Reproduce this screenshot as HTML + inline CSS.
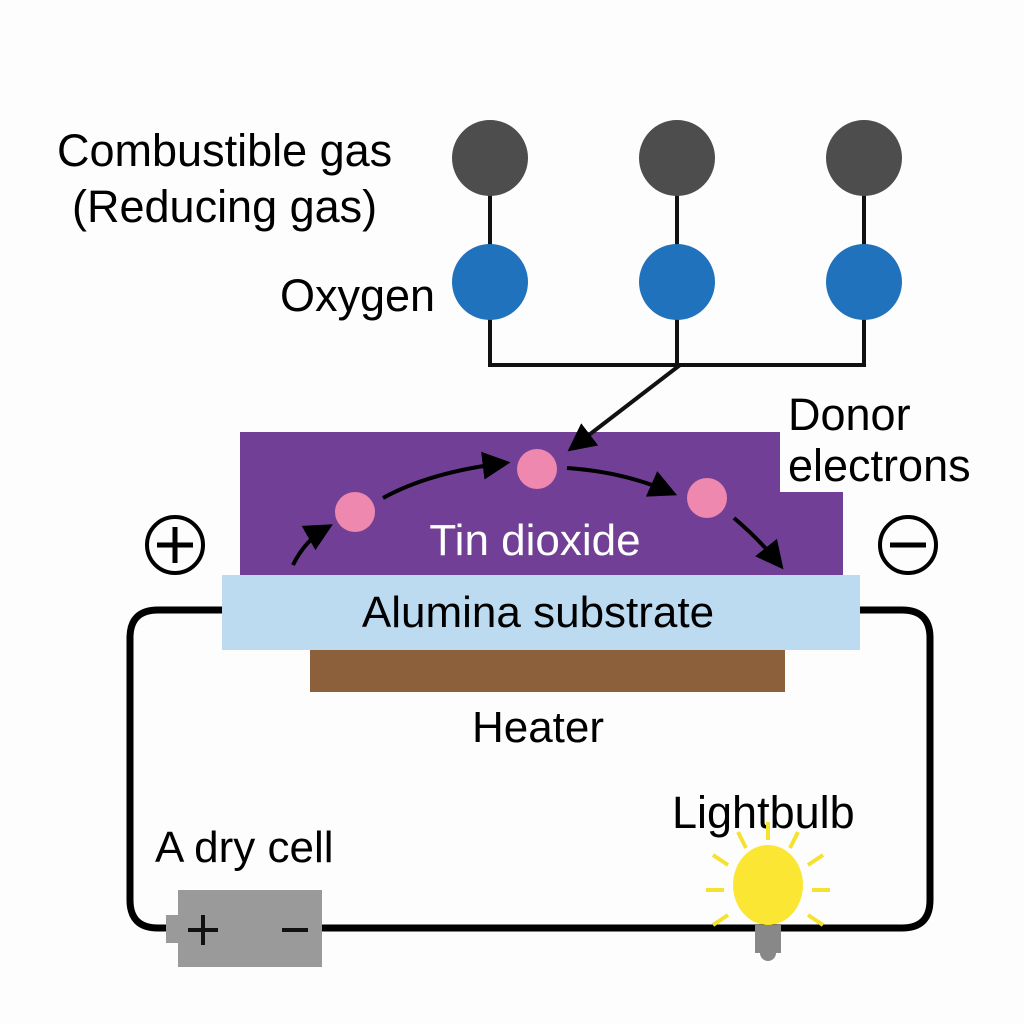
<!DOCTYPE html>
<html><head><style>body{margin:0;background:#fdfdfd}svg{display:block}text{font-family:"Liberation Sans",sans-serif}</style></head><body>
<svg width="1024" height="1024" viewBox="0 0 1024 1024">
<defs><marker id="a" viewBox="0 0 10 10" refX="8" refY="5" markerWidth="7" markerHeight="7" orient="auto"><path d="M0,0L10,5L0,10z" fill="#000"/></marker></defs>
<rect width="1024" height="1024" fill="#fdfdfd"/>
<text x="57" y="166" font-size="45">Combustible gas</text>
<text x="72" y="222" font-size="45">(Reducing gas)</text>
<text x="280" y="311" font-size="45">Oxygen</text>
<g stroke="#111" stroke-width="4" fill="none">
<path d="M490,158V365H864V158M677,158V365"/>
</g>
<g fill="#4d4d4d"><circle cx="490" cy="158" r="38"/><circle cx="677" cy="158" r="38"/><circle cx="864" cy="158" r="38"/></g>
<g fill="#1f72bb"><circle cx="490" cy="282" r="38"/><circle cx="677" cy="282" r="38"/><circle cx="864" cy="282" r="38"/></g>
<text x="788" y="430" font-size="45">Donor</text>
<text x="788" y="481" font-size="45">electrons</text>
<path d="M240,432H780V492H843V575H240Z" fill="#714096"/>
<path d="M680,365L572,448" stroke="#111" stroke-width="4" marker-end="url(#a)"/>
<path d="M222,610H158Q130,610 130,638V900Q130,928 158,928H902Q930,928 930,900V638Q930,610 902,610H860" stroke="#000" stroke-width="7" fill="none"/>
<rect x="222" y="575" width="638" height="75" fill="#bcdaf0"/>
<rect x="310" y="650" width="475" height="42" fill="#8c603a"/>
<text x="535" y="555" font-size="44" fill="#fff" text-anchor="middle">Tin dioxide</text>
<text x="538" y="627" font-size="44" text-anchor="middle">Alumina substrate</text>
<text x="538" y="742" font-size="44" text-anchor="middle">Heater</text>
<g fill="#ef88ae"><circle cx="355" cy="512" r="20"/><circle cx="537" cy="469" r="20"/><circle cx="707" cy="498" r="20"/></g>
<g stroke="#000" stroke-width="4" fill="none" marker-end="url(#a)">
<path d="M293,565Q305,540 328,527"/>
<path d="M383,498Q430,472 505,463"/>
<path d="M567,468Q625,472 672,493"/>
<path d="M734,518Q760,540 780,565"/>
</g>
<circle cx="175" cy="545" r="28" fill="none" stroke="#000" stroke-width="4"/>
<path d="M157,545H193M175,527V563" stroke="#000" stroke-width="5"/>
<circle cx="908" cy="545" r="28" fill="none" stroke="#000" stroke-width="4"/>
<path d="M890,545H926" stroke="#000" stroke-width="5"/>
<text x="155" y="862" font-size="44">A dry cell</text>
<text x="672" y="828" font-size="45">Lightbulb</text>
<rect x="166" y="915" width="14" height="28" fill="#9a9a9a"/>
<rect x="178" y="890" width="144" height="77" fill="#9a9a9a"/>
<path d="M188,930H218M203,915V945M282,930H308" stroke="#111" stroke-width="4"/>
<g stroke="#f5e230" stroke-width="4">
<path d="M768,822V840M738,832L746,848M798,832L790,848M713,855L728,865M823,855L808,865M706,890H724M812,890H830M713,925L728,915M823,925L808,915"/>
</g>
<rect x="755" y="925" width="26" height="28" fill="#888"/>
<circle cx="768" cy="953" r="8" fill="#888"/>
<ellipse cx="768" cy="885" rx="35" ry="40" fill="#fbe634"/>
</svg>
</body></html>
